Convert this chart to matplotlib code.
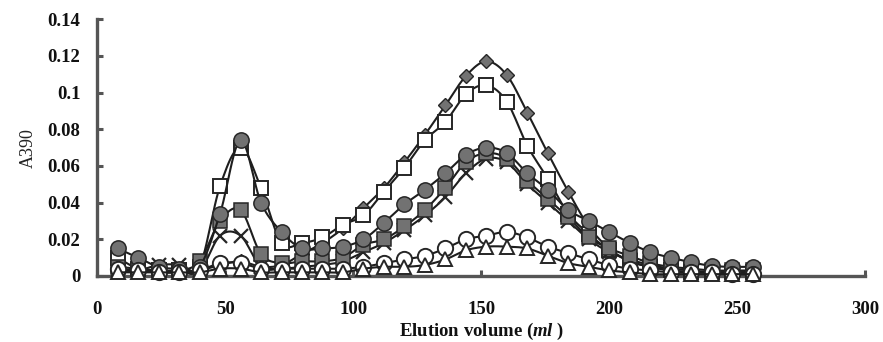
import numpy as np
import matplotlib
matplotlib.use("Agg")
import matplotlib.pyplot as plt

plt.rcParams['font.family'] = ['Liberation Serif', 'DejaVu Serif']
plt.rcParams['mathtext.fontset'] = 'custom'
plt.rcParams['mathtext.rm'] = 'Liberation Serif'
plt.rcParams['mathtext.it'] = 'Liberation Serif:italic'
plt.rcParams['mathtext.bf'] = 'Liberation Serif:bold'
plt.rcParams['mathtext.bfit'] = 'Liberation Serif:italic:bold'

# ---------------- data ----------------
elution_ml = [8, 16, 24, 32, 40, 48, 56, 64, 72, 80, 88, 96, 104, 112, 120, 128,
              136, 144, 152, 160, 168, 176, 184, 192, 200, 208, 216, 224, 232, 240, 248, 256]

grey_diamond = [0.003, 0.003, 0.002, 0.002, 0.003, 0.006, 0.008, 0.005, 0.006, 0.012, 0.018, 0.026,
                0.037, 0.048, 0.062, 0.077, 0.093, 0.109, 0.117, 0.1095, 0.089, 0.067, 0.046, 0.027,
                0.015, 0.008, 0.005, 0.003, 0.002, 0.002, 0.002, 0.002]
open_square = [0.010, 0.004, 0.003, 0.003, 0.005, 0.049, 0.070, 0.048, 0.018, 0.018, 0.021, 0.028,
               0.033, 0.046, 0.059, 0.074, 0.084, 0.099, 0.104, 0.095, 0.071, 0.053, 0.034, 0.023,
               0.014, 0.008, 0.005, 0.003, 0.002, 0.002, 0.002, 0.002]
x_mark = [0.003, 0.003, 0.006, 0.006, 0.003, 0.022, 0.022, 0.005, 0.004, 0.005, 0.006, 0.008,
          0.013, 0.018, 0.025, 0.033, 0.043, 0.056, 0.064, 0.062, 0.050, 0.040, 0.030, 0.020,
          0.013, 0.009, 0.006, 0.004, 0.003, 0.002, 0.002, 0.002]
grey_square = [0.005, 0.004, 0.003, 0.003, 0.008, 0.030, 0.036, 0.012, 0.007, 0.008, 0.008, 0.010,
               0.017, 0.020, 0.027, 0.036, 0.048, 0.062, 0.067, 0.064, 0.052, 0.042, 0.032, 0.021,
               0.015, 0.011, 0.007, 0.005, 0.004, 0.003, 0.003, 0.003]
grey_circle = [0.015, 0.010, 0.005, 0.004, 0.005, 0.034, 0.074, 0.040, 0.024, 0.015, 0.015, 0.016,
               0.020, 0.029, 0.039, 0.047, 0.056, 0.066, 0.070, 0.067, 0.056, 0.047, 0.036, 0.030,
               0.024, 0.018, 0.013, 0.010, 0.0075, 0.0055, 0.005, 0.005]
open_circle = [0.004, 0.003, 0.002, 0.002, 0.003, 0.007, 0.007, 0.004, 0.004, 0.004, 0.004, 0.004,
               0.005, 0.007, 0.009, 0.011, 0.015, 0.020, 0.022, 0.024, 0.021, 0.016, 0.0125, 0.009,
               0.006, 0.004, 0.003, 0.002, 0.002, 0.002, 0.001, 0.001]
open_triangle = [0.002, 0.002, 0.002, 0.002, 0.002, 0.004, 0.004, 0.002, 0.002, 0.002, 0.002, 0.002,
                 0.004, 0.005, 0.005, 0.006, 0.009, 0.014, 0.016, 0.016, 0.015, 0.011, 0.007, 0.005,
                 0.003, 0.002, 0.001, 0.001, 0.001, 0.001, 0.001, 0.001]

x_ticks = [0, 50, 100, 150, 200, 250, 300]
y_ticks = [0, 0.02, 0.04, 0.06, 0.08, 0.1, 0.12, 0.14]
y_tick_labels = ['0', '0.02', '0.04', '0.06', '0.08', '0.1', '0.12', '0.14']


def smooth(xs, ys, n=12):
    """Bezier (Catmull-Rom) smoothing of the line through the data, like an Excel smoothed line."""
    xs = np.asarray(xs, float)
    ys = np.asarray(ys, float)
    px = np.concatenate([[xs[0]], xs, [xs[-1]]])
    py = np.concatenate([[ys[0]], ys, [ys[-1]]])
    outx, outy = [], []
    t = np.linspace(0, 1, n, endpoint=False)
    for i in range(1, len(px) - 2):
        p0x, p1x, p2x, p3x = px[i - 1], px[i], px[i + 1], px[i + 2]
        p0y, p1y, p2y, p3y = py[i - 1], py[i], py[i + 1], py[i + 2]
        c1x = p1x + (p2x - p0x) / 6
        c1y = p1y + (p2y - p0y) / 6
        c2x = p2x - (p3x - p1x) / 6
        c2y = p2y - (p3y - p1y) / 6
        bx = (1 - t) ** 3 * p1x + 3 * (1 - t) ** 2 * t * c1x + 3 * (1 - t) * t ** 2 * c2x + t ** 3 * p2x
        by = (1 - t) ** 3 * p1y + 3 * (1 - t) ** 2 * t * c1y + 3 * (1 - t) * t ** 2 * c2y + t ** 3 * p2y
        outx.extend(bx)
        outy.extend(by)
    outx.append(xs[-1])
    outy.append(ys[-1])
    return np.array(outx), np.array(outy)


fig = plt.figure(figsize=(8.83, 3.42), dpi=100)
ax = fig.add_axes([0.110, 0.193, 0.870, 0.751])

edge = '#262626'
grey = '#727272'
line_c = '#1e1e1e'

series = [
    (grey_diamond, dict(marker='D', ms=7.5, mfc=grey, mec=edge, mew=1.0)),
    (open_square, dict(marker='s', ms=10, mfc='white', mec=edge, mew=1.4)),
    (x_mark, dict(marker='x', ms=10, mfc=edge, mec=edge, mew=1.6)),
    (grey_square, dict(marker='s', ms=10, mfc=grey, mec=edge, mew=1.1)),
    (grey_circle, dict(marker='o', ms=11, mfc=grey, mec=edge, mew=1.1)),
    (open_circle, dict(marker='o', ms=11, mfc='white', mec=edge, mew=1.4)),
    (open_triangle, dict(marker='^', ms=10, mfc='white', mec=edge, mew=1.4)),
]

z = 3
for ys, style in series:
    sx, sy = smooth(elution_ml, ys)
    ax.plot(sx, sy, color=line_c, lw=1.5, zorder=z)
    ax.plot(elution_ml, ys, linestyle='none', zorder=z + 0.5, clip_on=False, **style)
    z += 1

ax.set_xlim(0, 300)
ax.set_ylim(0, 0.14)
ax.set_xticks(x_ticks)
ax.set_yticks(y_ticks)
ax.set_yticklabels(y_tick_labels)

for s in ['top', 'right']:
    ax.spines[s].set_visible(False)
for s in ['left', 'bottom']:
    ax.spines[s].set_color('#555555')
    ax.spines[s].set_linewidth(2.4)
    ax.spines[s].set_zorder(2)

ax.tick_params(axis='both', direction='in', length=4, width=2.2, color='#555555',
               labelsize=13.5)
ax.tick_params(axis='x', pad=18)
ax.tick_params(axis='y', pad=12)
for lab in ax.get_xticklabels() + ax.get_yticklabels():
    lab.set_fontweight('bold')
    lab.set_color('#111111')

ax.set_ylabel('A390', fontsize=13, color='#222222', labelpad=8)
ax.set_xlabel(r'Elution volume ($\bfit{ml}$ )', fontsize=13.5, fontweight='bold',
              color='#111111', labelpad=2)

fig.savefig('out.png', dpi=100)
